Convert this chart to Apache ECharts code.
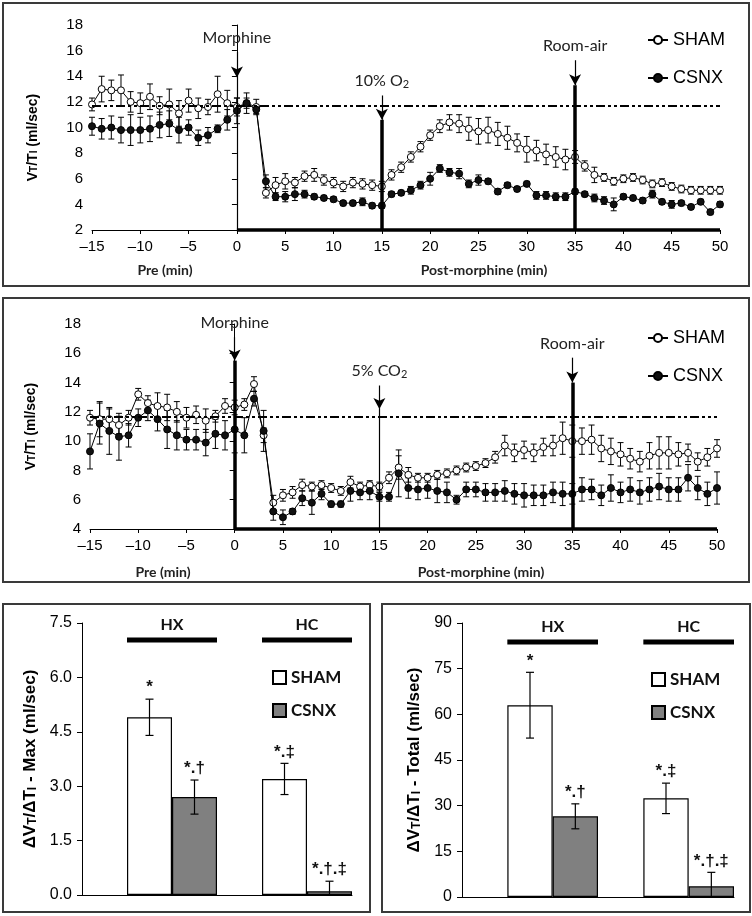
<!DOCTYPE html>
<html>
<head>
<meta charset="utf-8">
<script src="https://cdn.jsdelivr.net/npm/echarts@6/dist/echarts.min.js"></script>
<style>
  html, body { margin: 0; padding: 0; background: #fff; }
  body { width: 752px; height: 916px; position: relative; overflow: hidden; }
  .panel { position: absolute; border: 2px solid #3a3a3a; box-sizing: border-box; }
  #hx { left: 2px; top: 2px; width: 748px; height: 285px; }
  #hc { left: 2px; top: 297px; width: 748px; height: 286px; }
  #max { left: 2px; top: 603px; width: 369px; height: 310px; }
  #total { left: 381px; top: 603px; width: 370px; height: 310px; }
</style>
</head>
<body>
<div id="hx" class="panel"></div>
<div id="hc" class="panel"></div>
<div id="max" class="panel"></div>
<div id="total" class="panel"></div>
<script>
// time axis (min)
const minutes = [-15, -14, -13, -12, -11, -10, -9, -8, -7, -6, -5, -4, -3, -2, -1,
  0, 1, 2, 3, 4, 5, 6, 7, 8, 9, 10, 11, 12, 13, 14, 15, 16, 17, 18, 19, 20,
  21, 22, 23, 24, 25, 26, 27, 28, 29, 30, 31, 32, 33, 34, 35, 36, 37, 38, 39, 40,
  41, 42, 43, 44, 45, 46, 47, 48, 49, 50];

// panel 1 : 10% O2
const hxSham = [11.8, 13.0, 12.9, 12.9, 12.0, 11.9, 12.4, 11.7, 11.8, 11.1, 12.1, 11.5, 11.6, 12.6, 11.9,
  11.6, 11.9, 11.6, 4.9, 5.5, 5.8, 5.7, 6.2, 6.3, 5.9, 5.7, 5.4, 5.7, 5.6, 5.5, 5.4, 6.3, 6.9, 7.7, 8.5, 9.4,
  10.1, 10.4, 10.3, 9.9, 9.7, 9.8, 9.5, 9.2, 8.8, 8.3, 8.2, 7.9, 7.7, 7.5, 7.7, 7.0, 6.3, 6.1, 5.8, 6.0,
  6.1, 5.9, 5.6, 5.7, 5.4, 5.2, 5.1, 5.1, 5.1, 5.1];
const hxShamErr = [0.5, 1.0, 0.8, 1.2, 0.8, 0.8, 1.0, 0.7, 1.2, 1.0, 0.9, 0.8, 0.6, 1.4, 1.0,
  0.7, 0.8, 0.6, 0.4, 0.6, 0.6, 0.4, 0.4, 0.5, 0.4, 0.4, 0.4, 0.4, 0.4, 0.4, 0.4, 0.4, 0.4, 0.4, 0.4, 0.4,
  0.5, 0.6, 0.7, 0.9, 1.0, 1.0, 0.9, 0.9, 0.7, 1.0, 0.8, 0.8, 0.8, 0.8, 0.5, 0.4, 0.6, 0.3, 0.3, 0.3,
  0.3, 0.3, 0.3, 0.3, 0.3, 0.3, 0.3, 0.3, 0.3, 0.3];
const hxCsnx = [10.1, 9.9, 10.0, 9.8, 9.8, 9.8, 9.9, 10.2, 10.3, 9.8, 10.0, 9.2, 9.4, 9.9, 10.6,
  11.3, 11.9, 11.4, 5.8, 4.6, 4.6, 4.8, 4.8, 4.6, 4.5, 4.4, 4.1, 4.1, 4.2, 3.9, 3.9, 4.8, 4.9, 5.1, 5.5, 6.0,
  6.8, 6.5, 6.4, 5.6, 5.9, 5.8, 5.0, 5.5, 5.2, 5.6, 4.7, 4.7, 4.6, 4.6, 5.0, 4.8, 4.5, 4.3, 4.0, 4.6,
  4.5, 4.3, 4.8, 4.2, 4.0, 4.1, 3.8, 4.2, 3.4, 4.0];
const hxCsnxErr = [0.7, 0.8, 0.9, 1.0, 1.2, 1.0, 1.0, 1.0, 1.0, 1.0, 0.6, 0.6, 0.6, 0.3, 0.8,
  1.0, 0.4, 0.3, 0.5, 0.3, 0.4, 0.5, 0.3, 0.2, 0.2, 0.2, 0.2, 0.2, 0.3, 0.2, 0.2, 0.2, 0.2, 0.3, 0.3, 0.5,
  0.3, 0.3, 0.4, 0.3, 0.4, 0.2, 0.2, 0.2, 0.2, 0.2, 0.3, 0.3, 0.3, 0.3, 0.2, 0.2, 0.3, 0.3, 0.5, 0.2,
  0.2, 0.2, 0.3, 0.2, 0.3, 0.2, 0.2, 0.2, 0.2, 0.2];

// panel 2 : 5% CO2
const hcSham = [11.6, 11.5, 11.5, 11.1, 11.6, 13.2, 12.6, 12.4, 12.3, 12.0, 11.6, 11.8, 11.4, 11.7, 12.4,
  12.3, 12.5, 13.9, 10.4, 5.8, 6.3, 6.5, 7.0, 6.9, 7.0, 6.8, 6.6, 7.2, 6.9, 7.0, 6.9, 7.5, 8.2, 7.7, 7.5, 7.5,
  7.7, 7.8, 8.0, 8.2, 8.3, 8.5, 8.9, 9.7, 9.2, 9.4, 9.2, 9.6, 9.7, 10.2, 10.0, 10.0, 10.1, 9.5, 9.3, 9.1,
  8.8, 8.6, 9.0, 9.2, 9.2, 9.1, 9.2, 8.6, 8.9, 9.5];
const hcShamErr = [0.5, 1.2, 0.7, 0.6, 0.5, 0.4, 0.5, 0.9, 0.9, 0.7, 0.7, 0.6, 0.8, 0.4, 0.5,
  0.5, 0.4, 0.5, 0.5, 0.5, 0.4, 0.4, 0.4, 0.3, 0.3, 0.3, 0.3, 0.4, 0.3, 0.3, 0.3, 0.4, 0.8, 0.5, 0.3, 0.3,
  0.3, 0.3, 0.3, 0.3, 0.3, 0.3, 0.4, 0.7, 0.6, 0.6, 0.6, 0.6, 0.7, 1.1, 1.1, 0.9, 1.0, 0.9, 0.9, 0.8,
  0.7, 0.7, 0.9, 1.1, 1.1, 0.8, 0.6, 0.6, 0.6, 0.6];
const hcCsnx = [9.3, 11.2, 10.7, 10.3, 10.4, 11.6, 12.1, 11.5, 10.8, 10.4, 10.1, 10.1, 9.9, 10.5, 10.4,
  10.8, 10.4, 12.9, 10.7, 5.2, 4.8, 5.2, 6.1, 5.8, 6.4, 5.7, 5.7, 6.6, 6.5, 6.6, 6.2, 6.2, 7.8, 6.8, 6.7, 6.8,
  6.6, 6.5, 6.0, 6.7, 6.7, 6.5, 6.5, 6.6, 6.4, 6.3, 6.3, 6.3, 6.5, 6.4, 6.4, 6.7, 6.7, 6.3, 6.8, 6.5,
  6.7, 6.5, 6.7, 6.9, 6.7, 6.7, 7.5, 6.8, 6.4, 6.8];
const hcCsnxErr = [1.2, 1.4, 1.6, 1.6, 0.8, 0.6, 0.7, 0.8, 1.3, 1.0, 0.7, 0.7, 0.9, 1.0, 1.0,
  1.6, 1.2, 0.5, 1.4, 0.6, 0.5, 0.2, 0.5, 0.8, 0.4, 0.2, 0.2, 0.7, 0.5, 0.6, 0.3, 0.3, 1.6, 0.7, 0.7, 0.7,
  0.8, 0.7, 0.3, 0.5, 0.5, 0.6, 0.6, 0.7, 0.7, 0.8, 0.7, 0.7, 0.7, 0.8, 0.7, 0.8, 0.7, 0.7, 0.9, 0.7,
  0.8, 0.8, 0.8, 0.9, 0.8, 0.8, 0.9, 0.8, 0.8, 1.1];

// baseline (dash-dot line)
const baseline = 11.7;

// events
const eventTimes = [0, 15, 35];
const hxEventLabels = ['Morphine', '10% O{s|2}', 'Room-air'];
const hcEventLabels = ['Morphine', '5% CO{s|2}', 'Room-air'];

// bar panels
const groups = ['HX', 'HC'];
const maxSham = [4.9, 3.2];
const maxShamErr = [0.5, 0.43];
const maxCsnx = [2.7, 0.1];
const maxCsnxErr = [0.47, 0.28];
const totalSham = [63, 32.4];
const totalShamErr = [10.8, 5];
const totalCsnx = [26.5, 3.5];
const totalCsnxErr = [4.1, 4.6];
const shamMarks = ['*', '*.\u2021'];
const csnxMarks = ['*.\u2020', '*.\u2020.\u2021'];

const ARIAL = '"Liberation Sans", Arial, sans-serif';
const CAL = 'Lato, "Open Sans", sans-serif';

// error bars for the time courses
const errItem = (params, api) => {
  const x = api.value(0);
  const lo = api.coord([x, api.value(1)]);
  const hi = api.coord([x, api.value(2)]);
  const w = 3;
  const st = { stroke: '#000', lineWidth: 1 };
  return {
    type: 'group',
    children: [
      { type: 'line', shape: { x1: hi[0], y1: hi[1], x2: lo[0], y2: lo[1] }, style: st },
      { type: 'line', shape: { x1: hi[0] - w, y1: hi[1], x2: hi[0] + w, y2: hi[1] }, style: st },
      { type: 'line', shape: { x1: lo[0] - w, y1: lo[1], x2: lo[0] + w, y2: lo[1] }, style: st },
    ],
  };
};

const errSeries = (vals, errs) => ({
  type: 'custom',
  renderItem: errItem,
  data: minutes.map((m, i) => [m, vals[i] - errs[i], vals[i] + errs[i]]),
  encode: { x: 0, y: [1, 2] },
  silent: true,
  z: 1,
});

const eventMarks = (labels, lineTop, arrowTip, thick, yMin) => {
  const data = [];
  eventTimes.forEach((t, i) => {
    data.push([
      {
        coord: [t, lineTop[i]], symbol: 'none',
        lineStyle: { width: 1.2 },
        label: {
          show: true, position: 'start', distance: 6, formatter: labels[i],
          fontFamily: CAL, fontSize: 16, color: '#222',
          rich: { s: { fontFamily: CAL, fontSize: 11, color: '#222', padding: [7, 0, 0, 0] } },
        },
      },
      { coord: [t, arrowTip[i]], symbol: 'arrow', symbolSize: [9, 11] },
    ]);
    data.push([
      { coord: [t, arrowTip[i]], symbol: 'none', lineStyle: { width: thick[i] ? 3.5 : 1.2 }, label: { show: false } },
      { coord: [t, yMin], symbol: 'none' },
    ]);
  });
  // dash-dot baseline
  data.push([
    { coord: [-15, baseline], symbol: 'none', lineStyle: { width: 2, type: [9, 3, 3, 3, 3, 3] }, label: { show: false } },
    { coord: [50, baseline], symbol: 'none' },
  ]);
  // thick post-morphine axis
  data.push([
    { coord: [0, yMin], symbol: 'none', lineStyle: { width: 3.5 }, label: { show: false } },
    { coord: [50, yMin], symbol: 'none' },
  ]);
  return {
    silent: true,
    animation: false,
    symbol: ['none', 'none'],
    lineStyle: { color: '#000', type: 'solid' },
    label: { show: false },
    emphasis: { disabled: true },
    data: data,
  };
};

const lineOption = (cfg) => ({
  animation: false,
  textStyle: { fontFamily: ARIAL },
  grid: cfg.grid,
  legend: {
    data: ['SHAM', 'CSNX'],
    orient: 'vertical',
    left: 638,
    top: cfg.legendTop,
    itemWidth: 20,
    itemHeight: 10,
    itemGap: 20,
    textStyle: { fontFamily: ARIAL, fontSize: 18, color: '#000' },
  },
  xAxis: {
    type: 'value', min: -15, max: 50, interval: 5,
    axisLine: { onZero: false, lineStyle: { color: '#000', width: 1 } },
    axisTick: { show: true, length: 4, lineStyle: { color: '#000' } },
    axisLabel: { color: '#000', fontSize: 15, margin: 9, formatter: (v) => String(v).replace('-', '\u2013') },
    splitLine: { show: false },
  },
  yAxis: {
    type: 'value', min: cfg.yMin, max: 18, interval: 2,
    axisLine: { show: true, lineStyle: { color: '#000', width: 1 } },
    axisTick: { show: true, length: 5, lineStyle: { color: '#000' } },
    axisLabel: { color: '#000', fontSize: 15, margin: 9 },
    splitLine: { show: false },
    name: 'V{s|T}/T{s|I} (ml/sec)',
    nameLocation: 'middle',
    nameGap: 52,
    nameTextStyle: {
      fontFamily: ARIAL, fontWeight: 'bold', fontSize: 14, color: '#000',
      padding: [0, cfg.namePad, 0, 0],
      rich: { s: { fontFamily: ARIAL, fontWeight: 'bold', fontSize: 10, color: '#000', padding: [3, 0, 0, 0] } },
    },
  },
  graphic: [
    { type: 'text', x: cfg.preX, y: cfg.labelY, style: { text: 'Pre (min)', font: 'bold 14px ' + CAL, fill: '#222', textAlign: 'center', textVerticalAlign: 'middle' } },
    { type: 'text', x: cfg.postX, y: cfg.labelY, style: { text: 'Post-morphine (min)', font: 'bold 14px ' + CAL, fill: '#222', textAlign: 'center', textVerticalAlign: 'middle' } },
  ],
  series: [
    errSeries(cfg.sham, cfg.shamErr),
    errSeries(cfg.csnx, cfg.csnxErr),
    {
      name: 'SHAM', type: 'line',
      data: minutes.map((m, i) => [m, cfg.sham[i]]),
      symbol: 'circle', symbolSize: 7,
      itemStyle: { color: '#fff', borderColor: '#000', borderWidth: 1 },
      lineStyle: { color: '#000', width: 1 },
      z: 3,
      markLine: eventMarks(cfg.labels, cfg.lineTop, cfg.arrowTip, cfg.thick, cfg.yMin),
    },
    {
      name: 'CSNX', type: 'line',
      data: minutes.map((m, i) => [m, cfg.csnx[i]]),
      symbol: 'circle', symbolSize: 7,
      itemStyle: { color: '#111', borderColor: '#000', borderWidth: 1 },
      lineStyle: { color: '#000', width: 1 },
      z: 4,
    },
  ],
});

// error bars + significance marks for the bar panels
const barErr = (slot, marks) => (params, api) => {
  const i = api.value(0);
  const v = api.value(1);
  const e = api.value(2);
  const band = api.size([1, 0])[0];
  const cx = api.coord([i, 0])[0] + slot * band / 3;
  const hi = api.coord([i, v + e])[1];
  const lo = api.coord([i, Math.max(v - e, 0)])[1];
  const st = { stroke: '#000', lineWidth: 1.2 };
  return {
    type: 'group',
    children: [
      { type: 'line', shape: { x1: cx, y1: hi, x2: cx, y2: lo }, style: st },
      { type: 'line', shape: { x1: cx - 4, y1: hi, x2: cx + 4, y2: hi }, style: st },
      { type: 'line', shape: { x1: cx - 4, y1: lo, x2: cx + 4, y2: lo }, style: st },
      { type: 'text', x: cx, y: hi - 3, style: { text: marks[i], font: 'bold 17px ' + ARIAL, fill: '#111', textAlign: 'center', textVerticalAlign: 'bottom' } },
    ],
  };
};

const groupItem = (params, api) => {
  const i = api.value(0);
  const band = api.size([1, 0])[0];
  const c = api.coord([i, api.value(1)]);
  const x1 = c[0] - band / 2 + band / 3;
  const x2 = c[0] + band / 2;
  return {
    type: 'group',
    children: [
      { type: 'line', shape: { x1: x1, y1: c[1], x2: x2, y2: c[1] }, style: { stroke: '#000', lineWidth: 5 } },
      { type: 'text', x: (x1 + x2) / 2, y: c[1] - 15, style: { text: groups[i], font: 'bold 16px ' + CAL, fill: '#111', textAlign: 'center', textVerticalAlign: 'middle' } },
    ],
  };
};

const barOption = (cfg) => ({
  animation: false,
  textStyle: { fontFamily: ARIAL },
  grid: cfg.grid,
  legend: {
    data: ['SHAM', 'CSNX'],
    orient: 'vertical',
    left: 263,
    top: cfg.legendTop,
    icon: 'rect',
    itemWidth: 13,
    itemHeight: 13,
    itemGap: 16,
    textStyle: { fontFamily: CAL, fontWeight: 'bold', fontSize: 17, color: '#111' },
  },
  xAxis: {
    type: 'category', data: groups,
    axisLine: { lineStyle: { color: '#000', width: 1 } },
    axisTick: { show: false },
    axisLabel: { show: false },
  },
  yAxis: {
    type: 'value', min: 0, max: cfg.max, interval: cfg.step,
    axisLine: { show: true, lineStyle: { color: '#000', width: 1 } },
    axisTick: { show: true, length: 5, lineStyle: { color: '#000' } },
    axisLabel: { color: '#000', fontSize: 16, margin: 10, formatter: cfg.fmt },
    splitLine: { show: false },
    name: '\u0394V{s|T}/\u0394T{s|I} - ' + cfg.title + ' (ml/sec)',
    nameLocation: 'middle',
    nameGap: cfg.nameGap,
    nameTextStyle: {
      fontFamily: ARIAL, fontWeight: 'bold', fontSize: 17, color: '#000',
      rich: { s: { fontFamily: ARIAL, fontWeight: 'bold', fontSize: 12, color: '#000', padding: [4, 0, 0, 0] } },
    },
  },
  series: [
    { name: 'gap', type: 'bar', data: [0, 0], barGap: '0%', barCategoryGap: '0%', itemStyle: { opacity: 0 }, silent: true },
    { name: 'SHAM', type: 'bar', data: cfg.sham, barGap: '0%', barCategoryGap: '0%', itemStyle: { color: '#fff', borderColor: '#000', borderWidth: 1.2 } },
    { name: 'CSNX', type: 'bar', data: cfg.csnx, barGap: '0%', barCategoryGap: '0%', itemStyle: { color: '#808080', borderColor: '#000', borderWidth: 1.2 } },
    {
      type: 'custom', renderItem: barErr(0, shamMarks), silent: true, clip: false, z: 5,
      data: groups.map((g, i) => [i, cfg.sham[i], cfg.shamErr[i]]),
    },
    {
      type: 'custom', renderItem: barErr(1, csnxMarks), silent: true, clip: false, z: 5,
      data: groups.map((g, i) => [i, cfg.csnx[i], cfg.csnxErr[i]]),
    },
    {
      type: 'custom', renderItem: groupItem, silent: true, clip: false, z: 5,
      data: groups.map((g, i) => [i, cfg.groupY]),
    },
  ],
});

const hxChart = echarts.init(document.getElementById('hx'));
hxChart.setOption(lineOption({
  grid: { left: 88, right: 28, top: 21, bottom: 55 },
  legendTop: 22,
  yMin: 2,
  namePad: 20,
  preX: 161, postX: 480, labelY: 266,
  sham: hxSham, shamErr: hxShamErr, csnx: hxCsnx, csnxErr: hxCsnxErr,
  labels: hxEventLabels,
  lineTop: [15.9, 12.5, 15.25],
  arrowTip: [13.9, 10.6, 13.3],
  thick: [false, true, true],
}));

const hcChart = echarts.init(document.getElementById('hc'));
hcChart.setOption(lineOption({
  grid: { left: 86, right: 31, top: 25, bottom: 52 },
  legendTop: 25,
  yMin: 4,
  namePad: 0,
  preX: 159, postX: 477, labelY: 273,
  sham: hcSham, shamErr: hcShamErr, csnx: hcCsnx, csnxErr: hcCsnxErr,
  labels: hcEventLabels,
  lineTop: [17.1, 13.8, 15.7],
  arrowTip: [15.5, 12.2, 14.0],
  thick: [true, false, true],
}));

const maxChart = echarts.init(document.getElementById('max'));
maxChart.setOption(barOption({
  grid: { left: 78, right: 17, top: 18, bottom: 16 },
  legendTop: 59,
  max: 7.5, step: 1.5, fmt: (v) => v.toFixed(1),
  title: 'Max', nameGap: 38, groupY: 7.03,
  sham: maxSham, shamErr: maxShamErr, csnx: maxCsnx, csnxErr: maxCsnxErr,
}));

const totalChart = echarts.init(document.getElementById('total'));
totalChart.setOption(barOption({
  grid: { left: 79, right: 15, top: 18, bottom: 14 },
  legendTop: 61,
  max: 90, step: 15, fmt: (v) => String(v),
  title: 'Total', nameGap: 38, groupY: 83.8,
  sham: totalSham, shamErr: totalShamErr, csnx: totalCsnx, csnxErr: totalCsnxErr,
}));
</script>
</body>
</html>
